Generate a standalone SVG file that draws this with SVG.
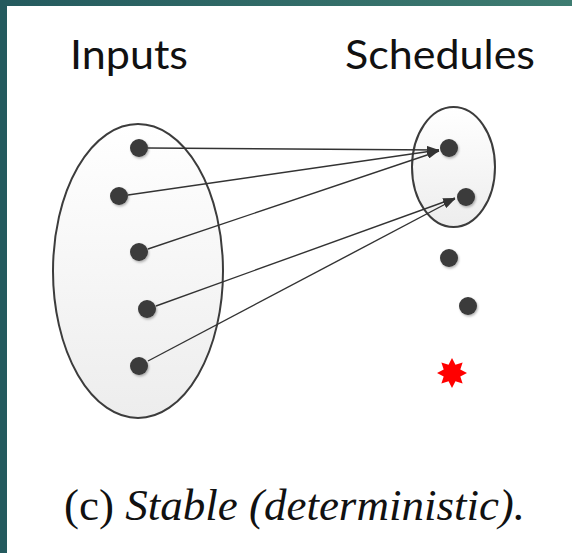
<svg xmlns="http://www.w3.org/2000/svg" width="572" height="553" viewBox="0 0 572 553">
  <defs>
    <linearGradient id="bar" x1="0" y1="0" x2="1" y2="0">
      <stop offset="0" stop-color="#245a5e"/>
      <stop offset="1" stop-color="#3e7c71"/>
    </linearGradient>
    <linearGradient id="setFill" x1="0" y1="0" x2="0" y2="1">
      <stop offset="0" stop-color="#ffffff"/>
      <stop offset="1" stop-color="#ededed"/>
    </linearGradient>
    <filter id="shadow" x="-50%" y="-50%" width="200%" height="200%">
      <feDropShadow dx="1" dy="1.5" stdDeviation="1.2" flood-color="#000" flood-opacity="0.3"/>
    </filter>
    <marker id="arrow" viewBox="0 0 12 8" refX="12" refY="4" markerWidth="12" markerHeight="8" markerUnits="userSpaceOnUse" orient="auto">
      <path d="M0,0 L12,4 L0,8 Z" fill="#333"/>
    </marker>
  </defs>
  <style>
    .set { fill: url(#setFill); stroke: #3c3c3c; stroke-width: 2; }
    .dot { fill: #3a3a3a; filter: url(#shadow); }
    .edge { stroke: #333; stroke-width: 1.4; fill: none; marker-end: url(#arrow); }
    .head { font-family: Lato, "Open Sans", "Liberation Sans", sans-serif; font-size: 41px; fill: #111; }
    .cap { font-family: "Liberation Serif", "DejaVu Serif", serif; font-size: 45px; fill: #111; }
  </style>

  <!-- page frame -->
  <rect x="0" y="0" width="572" height="553" fill="#ffffff"/>
  <rect x="0" y="0" width="572" height="6" fill="url(#bar)"/>
  <rect x="0" y="0" width="7" height="553" fill="#245a5e"/>

  <!-- headings -->
  <text class="head" x="70" y="69" textLength="118" lengthAdjust="spacingAndGlyphs">Inputs</text>
  <text class="head" x="345" y="69" textLength="190" lengthAdjust="spacingAndGlyphs">Schedules</text>

  <!-- input set -->
  <g id="inputs">
    <ellipse class="set" cx="138" cy="271" rx="85" ry="147"/>
    <circle class="dot" cx="139" cy="148" r="9"/>
    <circle class="dot" cx="119" cy="196" r="9"/>
    <circle class="dot" cx="139" cy="252" r="9"/>
    <circle class="dot" cx="147" cy="309" r="9"/>
    <circle class="dot" cx="139" cy="366" r="9"/>
  </g>

  <!-- stable schedules -->
  <g id="schedules">
    <ellipse class="set" cx="453.5" cy="167" rx="41.5" ry="60"/>
    <circle class="dot" cx="449" cy="148" r="9"/>
    <circle class="dot" cx="466" cy="197" r="9"/>
  </g>

  <!-- other schedules -->
  <g id="others">
    <circle class="dot" cx="449" cy="258" r="9"/>
    <circle class="dot" cx="468" cy="306" r="9"/>
  </g>

  <!-- failing schedule -->
  <g id="failure">
    <polygon fill="#ff0000" transform="translate(452,373)" points="0,-15 3.44,-8.31 10.61,-10.61 8.31,-3.44 15,0 8.31,3.44 10.61,10.61 3.44,8.31 0,15 -3.44,8.31 -10.61,10.61 -8.31,3.44 -15,0 -8.31,-3.44 -10.61,-10.61 -3.44,-8.31"/>
  </g>

  <!-- mappings -->
  <g id="connectors">
    <line class="edge" x1="148" y1="148" x2="439" y2="150"/>
    <line class="edge" x1="128" y1="195" x2="439" y2="150"/>
    <line class="edge" x1="148" y1="249" x2="439" y2="151"/>
    <line class="edge" x1="156" y1="306" x2="455" y2="198"/>
    <line class="edge" x1="148" y1="361" x2="455" y2="199"/>
  </g>

  <!-- caption -->
  <text class="cap" x="64" y="520">(c) <tspan font-style="italic">Stable (deterministic).</tspan></text>
</svg>
